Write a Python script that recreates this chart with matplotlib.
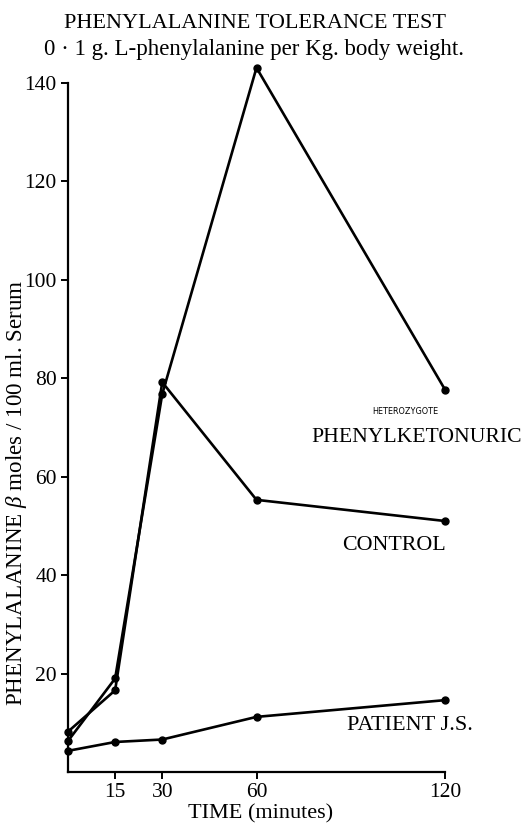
import matplotlib
matplotlib.use("Agg")
import matplotlib.pyplot as plt

plt.rcParams['font.family'] = ['Liberation Serif', 'DejaVu Serif']
plt.rcParams['mathtext.fontset'] = 'custom'
plt.rcParams['mathtext.it'] = 'Liberation Serif:italic'

times = [0, 15, 30, 60, 120]
pku = [6.3, 19.0, 76.8, 143.1, 77.7]
control = [8.2, 16.6, 79.2, 55.3, 51.0]
patient = [4.3, 6.1, 6.6, 11.2, 14.6]

xticks = [15, 30, 60, 120]
yticks = [20, 40, 60, 80, 100, 120, 140]

fig = plt.figure(figsize=(5.25, 8.25), dpi=100)
ax = fig.add_axes([68/525, 53/825, 377/525, 689/825])

for series in (pku, control, patient):
    ax.plot(times, series, color='black', lw=1.9, marker='o', ms=5,
            clip_on=False, solid_joinstyle='round')

ax.set_xlim(0, 120)
ax.set_ylim(0, 140)
ax.set_xticks(xticks)
ax.set_xticklabels([str(t) for t in xticks])
ax.set_yticks(yticks)
ax.set_yticklabels([str(t) for t in yticks])
for s in ('top', 'right'):
    ax.spines[s].set_visible(False)
for s in ('left', 'bottom'):
    ax.spines[s].set_linewidth(1.6)
ax.tick_params(axis='both', direction='out', length=5, width=1.4,
               labelsize=15.5, pad=3)

ax.set_xlabel('TIME (minutes)', fontsize=16)
ax.xaxis.set_label_coords(0.51, -0.047)
ax.set_ylabel(r'PHENYLALANINE $\beta$ moles / 100 ml. Serum', fontsize=16.6)
ax.yaxis.set_label_coords(-0.104, 0.405)

fig.text(255/525, 1 - 23/825, 'PHENYLALANINE TOLERANCE TEST',
         ha='center', va='center', fontsize=16)
fig.text(254/525, 1 - 50/825, '0 · 1 g. L-phenylalanine per Kg. body weight.',
         ha='center', va='center', fontsize=16.5)

fig.text(405/525, 1 - 412/825, 'HETEROZYGOTE', ha='center', va='center',
         fontsize=6.5, family='DejaVu Sans', fontstretch='condensed')
fig.text(417/525, 1 - 437/825, 'PHENYLKETONURIC', ha='center', va='center',
         fontsize=15.6)
fig.text(394/525, 1 - 546/825, 'CONTROL', ha='center', va='center',
         fontsize=15.8)
fig.text(410/525, 1 - 726/825, 'PATIENT J.S.', ha='center', va='center',
         fontsize=16)

fig.savefig('out.png', dpi=100)
